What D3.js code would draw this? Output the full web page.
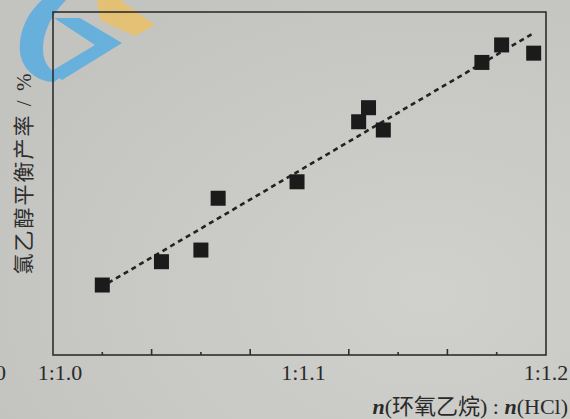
<!DOCTYPE html>
<html>
<head>
<meta charset="utf-8">
<script src="https://cdn.jsdelivr.net/npm/d3@7"></script>
<style>
  html, body { margin: 0; padding: 0; background: #c9c9c6; }
  svg { display: block; }
</style>
</head>
<body>
<svg id="chart"></svg>
<script>
// ratio n(HCl) per 1 of epoxyethane
const ratios = [1.020, 1.044, 1.060, 1.067, 1.099, 1.124, 1.128, 1.134, 1.174, 1.182, 1.195];
// equilibrium yield (no scale printed, relative 0-100)
const yields = [20.4, 27.2, 30.6, 45.7, 50.5, 68.0, 72.1, 65.6, 85.3, 90.4, 88.0];
// dashed trend line end points
const fitX = [1.0224, 1.1953];
const fitY = [21.0, 94.0];
const tickLabels = ['1:1.0', '1:1.1', '1:1.2'];
const tickLabelValues = [1.0, 1.1, 1.2];
const minorTicks = [1.02, 1.04, 1.06, 1.08, 1.12, 1.14, 1.16, 1.18];
const longTicks = [1.04, 1.08, 1.12, 1.16];

const config = {
  w: 570,
  h: 419,
  left: 53,
  right: 546,
  top: 12,
  bottom: 355,
  marker: 15,
};

const svg = d3.select('#chart')
  .attr('width', config.w)
  .attr('height', config.h);

// paper background, a bit darker at the upper left like the photo
const defs = svg.append('defs');
const grad = defs.append('radialGradient')
  .attr('id', 'paper')
  .attr('cx', '75%').attr('cy', '70%').attr('r', '85%');
grad.append('stop').attr('offset', '0%').attr('stop-color', '#d0d0cd');
grad.append('stop').attr('offset', '100%').attr('stop-color', '#c3c3c0');
svg.append('rect')
  .attr('width', config.w)
  .attr('height', config.h)
  .attr('fill', 'url(#paper)');

// watermark logo in the corner
const logo = svg.append('g').attr('opacity', 0.72);
logo.append('path')
  .attr('d', 'M42,0 L66,0 C48,18 40,40 44,58 C47,68 55,74 62,76 L54,82 C38,82 22,70 20,52 C18,32 28,12 42,0 Z')
  .attr('fill', '#45aae6');
logo.append('path')
  .attr('d', 'M54,18 L80,18 L122,43 L62,80 L50,72 L95,45 Z')
  .attr('fill', '#45aae6');
logo.append('path')
  .attr('d', 'M97,0 L120,0 L155,25 L135,36 L100,20 Z')
  .attr('fill', '#f2c058');

const xScale = d3.scaleLinear()
  .domain([1.0, 1.2])
  .range([config.left, config.right]);

const yScale = d3.scaleLinear()
  .domain([0, 100])
  .range([config.bottom, config.top]);

// frame
svg.append('rect')
  .attr('x', config.left)
  .attr('y', config.top)
  .attr('width', config.right - config.left)
  .attr('height', config.bottom - config.top)
  .attr('fill', 'none')
  .attr('stroke', '#2e2e2e')
  .attr('stroke-width', 1.6);

// inward ticks on the bottom axis
svg.selectAll('line.tick')
  .data(minorTicks)
  .join('line')
  .attr('class', 'tick')
  .attr('x1', (d) => xScale(d))
  .attr('x2', (d) => xScale(d))
  .attr('y1', config.bottom)
  .attr('y2', (d) => config.bottom - (longTicks.includes(d) ? 6 : 3))
  .attr('stroke', '#2e2e2e')
  .attr('stroke-width', 1.6);

svg.selectAll('text.xlab')
  .data(tickLabels)
  .join('text')
  .attr('class', 'xlab')
  .attr('x', (d, i) => xScale(tickLabelValues[i]) + (i === 0 ? 7 : i === 1 ? 4 : 0))
  .attr('y', 380)
  .attr('text-anchor', 'middle')
  .attr('font-family', '"Liberation Serif", serif')
  .attr('font-size', 22)
  .attr('fill', '#2a2a2a')
  .text((d) => d);

// cut-off label from the neighbouring figure
svg.append('text')
  .attr('x', -5)
  .attr('y', 380)
  .attr('font-family', '"Liberation Serif", serif')
  .attr('font-size', 22)
  .attr('fill', '#2a2a2a')
  .text('0');

// trend line
svg.append('line')
  .attr('x1', xScale(fitX[0]))
  .attr('y1', yScale(fitY[0]))
  .attr('x2', xScale(fitX[1]))
  .attr('y2', yScale(fitY[1]))
  .attr('stroke', '#222')
  .attr('stroke-width', 2.6)
  .attr('stroke-dasharray', '5,4');

// square markers
svg.selectAll('rect.pt')
  .data(ratios)
  .join('rect')
  .attr('class', 'pt')
  .attr('x', (d) => xScale(d) - config.marker / 2)
  .attr('y', (d, i) => yScale(yields[i]) - config.marker / 2)
  .attr('width', config.marker)
  .attr('height', config.marker)
  .attr('fill', '#1b1b1b');

// y label
svg.append('text')
  .attr('transform', 'translate(31,173) rotate(-90)')
  .attr('text-anchor', 'middle')
  .attr('font-family', '"Liberation Serif", "Noto Sans CJK SC", serif')
  .attr('font-size', 21)
  .attr('letter-spacing', 2)
  .attr('fill', '#2e2e2e')
  .text('氯乙醇平衡产率 / %');

// x label
const xTitle = svg.append('text')
  .attr('x', 568)
  .attr('y', 414)
  .attr('text-anchor', 'end')
  .attr('font-family', '"Liberation Serif", "Noto Sans CJK SC", serif')
  .attr('font-size', 22)
  .attr('fill', '#2a2a2a');
xTitle.append('tspan').attr('font-style', 'italic').attr('font-weight', 'bold').text('n');
xTitle.append('tspan').text('(环氧乙烷) : ');
xTitle.append('tspan').attr('font-style', 'italic').attr('font-weight', 'bold').text('n');
xTitle.append('tspan').text('(HCl)');
</script>
</body>
</html>
